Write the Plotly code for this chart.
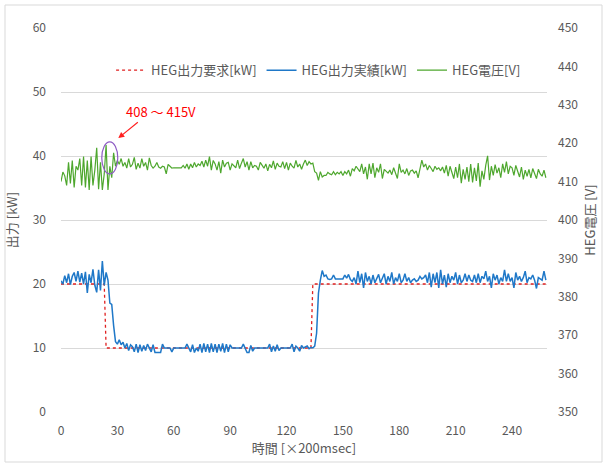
import plotly.graph_objects as go

# ---- data ----
x_vals = list(range(0, 259))

req_kw = [20.0] * 24 + [10.0] * 110 + [20.0] * 125

act_kw = [
    20.5, 20.0, 21.3, 20.2, 21.6, 19.9, 21.2, 21.8, 20.4, 22.0,
    20.3, 21.7, 20.0, 21.9, 18.6, 21.5, 20.2, 22.3, 19.8, 18.7,
    22.2, 19.0, 23.6, 19.8, 21.8, 20.6, 17.0, 16.8, 13.5, 11.0,
    10.6, 11.3, 10.5, 10.9, 10.0, 10.7, 9.6, 10.5, 10.2, 9.4,
    10.6, 9.3, 10.5, 9.5, 10.4, 9.6, 10.6, 10.0, 9.4, 10.5,
    9.3, 9.3, 9.3, 9.3, 10.6, 10.0, 10.0, 10.0, 10.0, 9.4,
    10.0, 10.0, 10.0, 10.0, 10.0, 10.0, 10.0, 10.6, 10.0, 9.4,
    10.5, 9.3, 10.0, 9.5, 10.6, 9.3, 10.7, 9.4, 10.6, 9.3,
    10.7, 9.4, 10.6, 9.3, 10.6, 9.5, 10.7, 9.3, 10.6, 9.4,
    10.5, 10.0, 10.0, 10.0, 10.0, 10.0, 10.0, 10.6, 10.0, 9.3,
    9.3, 10.4, 9.5, 10.0, 10.0, 10.0, 10.0, 10.0, 10.0, 10.0,
    10.0, 10.6, 9.4, 10.3, 9.5, 10.5, 9.6, 10.0, 10.0, 10.0,
    10.0, 10.0, 10.0, 10.6, 9.4, 10.3, 10.0, 9.5, 10.4, 10.0,
    10.2, 10.3, 9.9, 10.1, 10.0, 10.3, 12.3, 18.6, 20.6,
    22.1, 21.2, 21.4, 20.8, 20.7, 20.8, 21.4, 20.8, 20.8, 20.8,
    20.8, 20.8, 21.4, 20.9, 21.5, 20.7, 20.4, 21.0, 20.0, 22.0,
    20.2, 21.6, 19.4, 21.8, 20.4, 21.2, 20.0, 21.4, 20.2, 20.8,
    21.5, 20.2, 20.8, 21.6, 20.0, 21.2, 20.4, 21.8, 20.0, 21.0,
    20.4, 21.6, 20.2, 20.6, 21.6, 20.4, 21.0, 20.2, 20.6, 20.8,
    20.4, 20.6, 21.2, 20.8, 21.0, 21.4, 20.2, 21.8, 19.5, 21.6,
    20.2, 21.8, 19.4, 22.2, 20.0, 21.4, 19.5, 21.6, 20.2, 21.2,
    20.6, 21.8, 20.0, 21.4, 20.2, 20.6, 21.6, 20.4, 21.4, 20.6,
    20.4, 21.4, 20.2, 21.6, 20.2, 21.2, 20.8, 22.0, 20.4, 21.2,
    19.4, 21.6, 20.6, 21.4, 20.0, 21.0, 20.4, 22.2, 20.4, 21.6,
    20.4, 21.0, 19.4, 21.8, 20.6, 21.2, 20.4, 21.0, 22.0, 20.2,
    21.0, 20.8, 21.4, 20.6, 19.3, 21.0, 20.8, 20.6, 22.0, 20.6,
]

volt_v = [
    410.0, 412.5, 411.5, 409.0, 415.0, 409.5, 415.5, 408.5, 414.0, 413.0,
    416.0, 409.0, 416.5, 408.5, 415.5, 407.8, 416.5, 409.0, 413.0, 418.8,
    408.0, 415.0, 407.8, 412.0, 419.5, 407.8, 414.0, 411.0, 417.5, 414.0,
    415.5, 414.5, 416.0, 414.0, 415.0, 413.5, 416.0, 413.8, 414.5, 416.3,
    413.2, 414.8, 413.5, 416.0, 414.0, 415.0, 413.0, 416.2, 414.2, 413.5,
    414.0, 415.0, 413.8, 413.5, 414.0, 413.8, 412.0, 414.5, 414.0, 413.5,
    413.6, 413.6, 413.6, 413.6, 413.6, 414.2, 413.5, 414.6, 413.2, 414.6,
    413.6, 415.0, 413.8, 414.6, 414.2, 415.3, 413.8, 415.6, 414.0, 416.5,
    413.0, 415.5, 414.6, 413.0, 415.2, 412.2, 415.6, 413.8, 414.8, 415.0,
    413.0, 414.6, 414.0, 413.6, 415.6, 413.4, 414.8, 416.0, 413.8, 415.2,
    413.0, 415.2, 413.6, 414.2, 414.0, 413.0, 415.0, 414.3, 413.5, 414.6,
    412.8, 414.5, 413.6, 415.4, 413.2, 414.8, 414.0, 413.8, 415.2, 413.4,
    415.0, 413.0, 414.8, 414.0, 413.5, 415.5, 413.8, 414.6, 413.2, 414.6,
    415.6, 414.2, 415.2, 414.6, 414.8, 412.6, 412.2, 410.3, 412.6, 411.2,
    411.6, 411.6, 412.4, 412.0, 411.8, 412.6, 411.8, 412.4, 412.0, 412.6,
    411.6, 412.6, 412.0, 413.0, 411.4, 413.4, 412.8, 414.0, 413.4, 412.6,
    414.6, 412.0, 413.8, 410.6, 414.6, 412.0, 414.8, 411.0, 413.6, 412.4,
    414.6, 410.8, 413.2, 412.6, 412.2, 413.0, 411.8, 413.6, 412.2, 410.8,
    414.6, 412.4, 413.0, 412.0, 413.4, 411.6, 412.8, 413.0, 412.2, 412.8,
    411.0, 413.4, 415.6, 413.8, 414.6, 413.0, 414.2, 413.4, 412.6, 414.0,
    413.2, 413.6, 412.8, 413.8, 412.2, 414.2, 411.4, 414.0, 412.0, 410.8,
    413.8, 411.0, 414.6, 409.6, 413.2, 410.6, 413.8, 410.0, 414.6, 409.8,
    413.6, 410.2, 414.8, 408.7, 412.8, 410.6, 414.2, 416.7, 410.4, 414.0,
    411.6, 414.4, 412.2, 413.6, 411.0, 414.6, 412.4, 415.2, 412.0, 414.0,
    413.6, 411.6, 414.2, 412.6, 411.2, 413.8, 410.6, 413.0, 411.4, 413.2,
    411.0, 413.4, 412.2, 410.8, 413.2, 412.0, 411.4, 413.0, 411.0,
]

x_ticks = [0, 30, 60, 90, 120, 150, 180, 210, 240]
names = ["HEG出力要求[kW]", "HEG出力実績[kW]", "HEG電圧[V]"]

FONT = "Noto Sans CJK JP"
GRAY = "#595959"

fig = go.Figure()
fig.add_trace(go.Scatter(x=x_vals, y=req_kw, mode="lines", name=names[0],
                         line=dict(color="#E02020", width=1.3, dash="dot")))
fig.add_trace(go.Scatter(x=x_vals, y=act_kw, mode="lines", name=names[1],
                         line=dict(color="#1F78C8", width=1.5)))
fig.add_trace(go.Scatter(x=x_vals, y=volt_v, mode="lines", name=names[2],
                         yaxis="y2", line=dict(color="#4EA72E", width=1.2)))

fig.update_layout(
    width=606, height=465,
    margin=dict(l=61, r=59, t=28, b=53),
    paper_bgcolor="white", plot_bgcolor="white",
    font=dict(family=FONT, color=GRAY, size=12),
    showlegend=True,
    legend=dict(orientation="h", x=0.53, y=0.89, xanchor="center", yanchor="middle",
                font=dict(size=13, color=GRAY), bgcolor="rgba(0,0,0,0)",
                traceorder="normal", itemwidth=30),
    xaxis=dict(range=[0, 258.6], tickvals=x_ticks, showgrid=False, zeroline=False,
               showline=False, ticks="", tickfont=dict(size=12, color=GRAY),
               ticklabelstandoff=10,
               title=dict(text="時間 [×200msec]", font=dict(size=13, color=GRAY), standoff=6)),
    yaxis=dict(range=[0, 60], dtick=10, showgrid=True, gridcolor="#D9D9D9", gridwidth=1,
               zeroline=False, showline=False, ticks="", tickfont=dict(size=12, color=GRAY),
               ticklabelstandoff=14,
               title=dict(text="出力 [kW]", font=dict(size=13, color=GRAY), standoff=12)),
    yaxis2=dict(range=[350, 450], dtick=10, overlaying="y", side="right", showgrid=False,
                zeroline=False, showline=False, ticks="", tickfont=dict(size=12, color=GRAY),
                ticklabelstandoff=10,
                title=dict(text="HEG電圧 [V]", font=dict(size=13, color=GRAY), standoff=8)),
)

# chart area border
fig.add_shape(type="rect", xref="paper", yref="paper",
              x0=(5 - 61) / 486, x1=(602 - 61) / 486,
              y0=(412 - 462) / 384, y1=(412 - 5) / 384,
              line=dict(color="#D9D9D9", width=1), fillcolor="rgba(0,0,0,0)", layer="below")

# ellipse around the peak
fig.add_shape(type="circle", xref="x", yref="y", x0=21.7, x1=30.2, y0=37.2, y1=42.2,
              line=dict(color="#8E5CC4", width=1.2))

# arrow
fig.add_annotation(x=30.5, y=42.8, xref="x", yref="y", ax=21, ay=-17, text="",
                   showarrow=True, arrowhead=2, arrowsize=1, arrowwidth=1.2,
                   arrowcolor="#FF2020")
fig.add_annotation(x=53.2, y=46.9, xref="x", yref="y", text="408 ～ 415V",
                   showarrow=False, font=dict(size=13, color="#FF0000", family=FONT))

fig.write_html("out.html")
